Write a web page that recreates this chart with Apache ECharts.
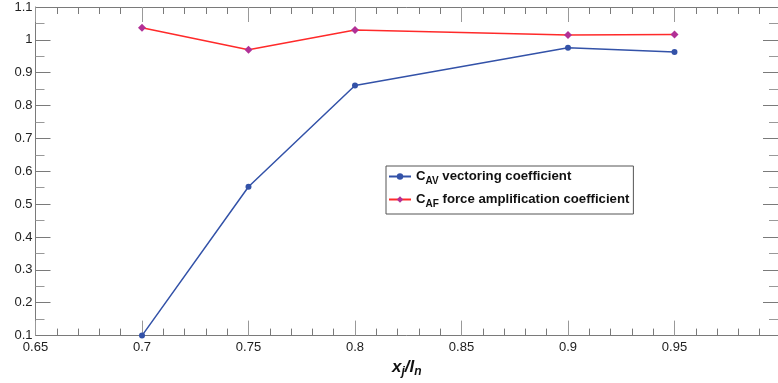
<!DOCTYPE html>
<html><head><meta charset="utf-8">
<script src="https://cdn.jsdelivr.net/npm/echarts@6/dist/echarts.min.js"></script>
<style>html,body{margin:0;padding:0;background:#fff}#c{width:778px;height:383px}</style>
</head><body><div id="c"></div>
<script>
const xValues = [0.7, 0.75, 0.8, 0.9, 0.95];
const cavValues = [0.1, 0.553, 0.861, 0.976, 0.963];
const cafValues = [1.037, 0.970, 1.030, 1.015, 1.016];
const seriesNames = ['C_AV vectoring coefficient', 'C_AF force amplification coefficient'];

const chart = echarts.init(document.getElementById('c'));
const font = 'Liberation Sans, Helvetica, Arial, sans-serif';
const frame = '#7a7a7a';
function xAx(pos, labels) {
  return {
    type: 'value', position: pos, min: 0.65, max: 0.9986, interval: 0.05,
    axisLine: { show: true, lineStyle: { color: frame, width: 1 } },
    axisTick: { show: true, inside: true, length: 15, lineStyle: { color: '#999' } },
    minorTick: { show: true, splitNumber: 5, length: 7, lineStyle: { color: frame } },
    splitLine: { show: false },
    axisLabel: { show: labels, color: '#222', fontFamily: font, fontSize: 13, margin: 5, showMaxLabel: false },
    name: labels ? '{a|x}{s|j}{a|/l}{s|n}' : '',
    nameLocation: 'middle', nameGap: 20,
    nameTextStyle: { rich: {
      a: { fontFamily: font, fontWeight: 'bold', fontStyle: 'italic', fontSize: 17, color: '#111' },
      s: { fontFamily: font, fontWeight: 'bold', fontStyle: 'italic', fontSize: 12, color: '#111', verticalAlign: 'bottom', padding: [10, 0, 0, 0] }
    } }
  };
}
function yAx(pos, labels) {
  return {
    type: 'value', position: pos, min: 0.1, max: 1.1, interval: 0.1,
    axisLine: { show: labels, lineStyle: { color: frame, width: 1 } },
    axisTick: { show: true, inside: true, length: 15, lineStyle: { color: frame } },
    minorTick: { show: true, splitNumber: 2, length: 9, lineStyle: { color: '#999' } },
    splitLine: { show: false },
    axisLabel: { show: labels, color: '#222', fontFamily: font, fontSize: 13, margin: 3 }
  };
}
const fmtMap = {};
fmtMap[seriesNames[0]] = '{b|C}{s|AV}{b| vectoring coefficient}';
fmtMap[seriesNames[1]] = '{b|C}{s|AF}{b| force amplification coefficient}';
chart.setOption({
  animation: false,
  grid: { left: 35.5, right: 0, top: 7, bottom: 45 },
  xAxis: [xAx('bottom', true), xAx('top', false)],
  yAxis: [yAx('left', true), yAx('right', false)],
  legend: {
    orient: 'vertical', left: 386, top: 166,
    backgroundColor: '#fff', borderColor: '#555', borderWidth: 1,
    padding: [4, 4, 5, 2], itemGap: 7, itemWidth: 22, itemHeight: 8,
    data: seriesNames,
    formatter: n => fmtMap[n],
    textStyle: { rich: {
      b: { fontFamily: font, fontWeight: 'bold', fontSize: 13.2, color: '#111' },
      s: { fontFamily: font, fontWeight: 'bold', fontSize: 10, color: '#111', verticalAlign: 'bottom', padding: [9, 0, 0, 0] }
    } }
  },
  series: [
    { name: seriesNames[0], type: 'line', data: xValues.map((x, i) => [x, cavValues[i]]),
      symbol: 'circle', symbolSize: 6, lineStyle: { color: '#3352a8', width: 1.5 },
      itemStyle: { color: '#3352a8' } },
    { name: seriesNames[1], type: 'line', data: xValues.map((x, i) => [x, cafValues[i]]),
      symbol: 'diamond', symbolSize: 8, lineStyle: { color: '#ff2a2a', width: 1.5 },
      itemStyle: { color: '#b23096' } }
  ]
});
</script></body></html>
